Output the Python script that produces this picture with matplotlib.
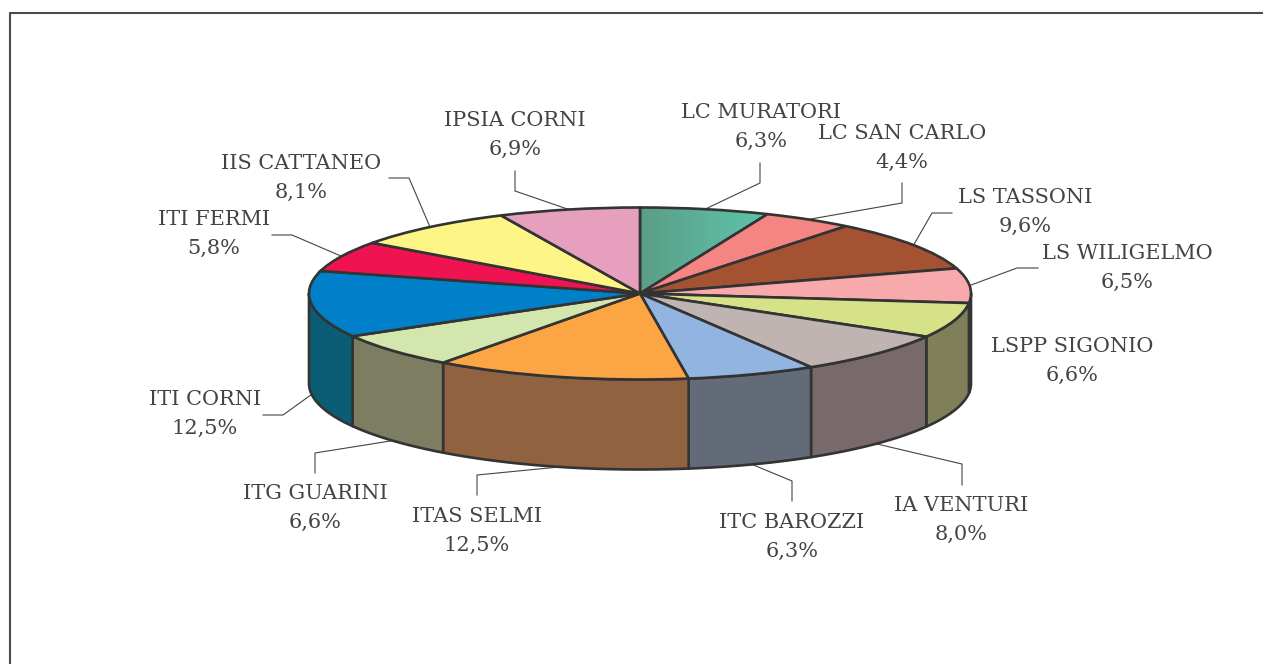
import numpy as np
import matplotlib
matplotlib.use('Agg')
import matplotlib.pyplot as plt

schools = ['LC MURATORI', 'LC SAN CARLO', 'LS TASSONI', 'LS WILIGELMO', 'LSPP SIGONIO',
           'IA VENTURI', 'ITC BAROZZI', 'ITAS SELMI', 'ITG GUARINI', 'ITI CORNI',
           'ITI FERMI', 'IIS CATTANEO', 'IPSIA CORNI']
shares = [6.3, 4.4, 9.6, 6.5, 6.6, 8.0, 6.3, 12.5, 6.6, 12.5, 5.8, 8.1, 6.9]

top_colors = ['#5b9e87', '#f58582', '#a45232', '#f8a9ac', '#d5e288', '#bfb4b2', '#92b4e0',
              '#fba544', '#d2e6ae', '#0080c8', '#ef1451', '#fef587', '#e6a0bd']
side_colors = ['#3f6e5e', '#aa5c5a', '#723923', '#7f6b6e', '#7f7f5a', '#78696a', '#646b78',
               '#916240', '#7d7d62', '#0b5c75', '#a60e38', '#b0aa5e', '#a06f83']

# label centres and leader bends, in pixels of the picture
label_pos = [(761, 127), (902, 148), (1025, 212), (1127, 268), (1072, 361), (961, 520), (792, 537),
             (477, 531), (315, 508), (205, 414), (214, 234), (301, 178), (515, 135)]
leader_bends = [[(760, 183), (760, 163)], [(902, 203), (902, 183)], [(932, 213), (952, 213)],
                [(1017, 268), (1038, 268)], None, [(962, 464), (962, 485)], [(792, 481), (792, 501)],
                [(477, 475), (477, 495)], [(315, 453), (315, 473)], [(283, 415), (263, 415)],
                [(292, 235), (272, 235)], [(409, 178), (389, 178)], [(515, 191), (515, 171)]]

W, H = 1263, 664
CX, CY, RX, RY, DEPTH = 640, 293.5, 331, 86, 90
EDGE = '#333333'
TEXT = '#444444'


def to_data(x, y):
    return (x - CX) / RX, (CY - y) / RY


fig = plt.figure(figsize=(W / 100, H / 100), dpi=100)
ax = fig.add_axes([0, 0, 1, 1])

wedges, _ = ax.pie(shares, startangle=90, counterclock=False, radius=1,
                   colors=top_colors, wedgeprops={'edgecolor': EDGE, 'linewidth': 1.9, 'zorder': 3})

# first slice has a left to right gradient
wedges[0].set_facecolor('none')
limit = np.sin(np.radians(360 * shares[0] / sum(shares)))
ramp = np.linspace(0, 1, 64)[None, :]
cmap = matplotlib.colors.LinearSegmentedColormap.from_list('teal', ['#5b9e87', '#5fc4ac'])
img = ax.imshow(ramp, cmap=cmap, extent=(0, limit, 0, 1), aspect='auto', zorder=2)
img.set_clip_path(wedges[0])

# side wall of the slices facing the viewer
bounds = np.concatenate([[0], np.cumsum(shares)]) / sum(shares) * 360
depth = DEPTH / RY
for i in range(len(shares)):
    a0, a1 = max(bounds[i], 90), min(bounds[i + 1], 270)
    if a1 <= a0:
        continue
    t = np.radians(np.linspace(a0, a1, 60))
    xs = np.concatenate([np.sin(t), np.sin(t[::-1])])
    ys = np.concatenate([np.cos(t), np.cos(t[::-1]) - depth])
    ax.fill(xs, ys, facecolor=side_colors[i], edgecolor=EDGE, linewidth=1.9, joinstyle='round', zorder=1)

# leader lines start on the rim at the middle of each slice
mids = np.radians((bounds[:-1] + bounds[1:]) / 2)
for i, bend in enumerate(leader_bends):
    if bend is None:
        continue
    rim_x, rim_y = np.sin(mids[i]), np.cos(mids[i])
    if np.cos(mids[i]) < 0:
        rim_y -= depth
    pts = [(rim_x, rim_y)] + [to_data(*p) for p in bend]
    ax.plot([p[0] for p in pts], [p[1] for p in pts], color='#444444', linewidth=0.8, zorder=0.5)

for name, val, pos in zip(schools, shares, label_pos):
    x, y = to_data(*pos)
    label = name + '\n' + f'{val:.1f}'.replace('.', ',') + '%'
    ax.text(x, y, label, ha='center', va='center', multialignment='center', color=TEXT,
            fontsize=15, family='DejaVu Serif', linespacing=1.72)

# frame of the picture: only top and left edges show
fx0, fy0 = to_data(9.5, 13)
fx1, fy1 = to_data(W, H)
ax.plot([fx0, fx0, fx1], [fy1, fy0, fy0], color='#4a4a4a', linewidth=1.5, zorder=0.5)

ax.set_aspect('auto')
ax.set_xlim(to_data(0, 0)[0], to_data(W, 0)[0])
ax.set_ylim(to_data(0, H)[1], to_data(0, 0)[1])
ax.axis('off')

fig.savefig('out.png', dpi=100, facecolor='white')
